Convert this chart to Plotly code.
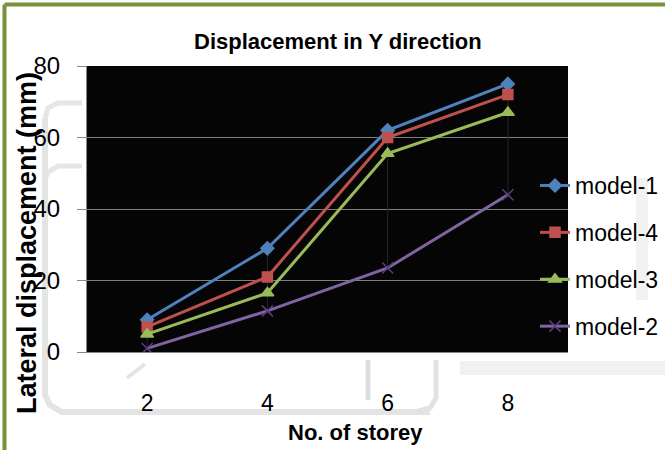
import plotly.graph_objects as go

# Storey numbers and lateral displacement (mm) in the Y direction
storeys = [2, 4, 6, 8]
model_1 = [9, 29, 62, 75]
model_4 = [7, 21, 60, 72]
model_3 = [5, 16.5, 55.5, 67]
model_2 = [1, 11.5, 23.5, 44]

series = [
    ("model-1", model_1, "#4F81BD", "diamond", 10),
    ("model-4", model_4, "#C0504D", "square", 10),
    ("model-3", model_3, "#9BBB59", "triangle-up", 11),
    ("model-2", model_2, "#8064A2", "x-thin", 11),
]

FONT = "Liberation Sans, Arial, sans-serif"

# Plot-area geometry in pixels (used to place decorations in paper units)
L, R, T, B = 87, 568, 66, 352


def px(x, y):
    return (x - L) / (R - L), (B - y) / (B - T)


fig = go.Figure()

# High-low lines between the largest and smallest value at each storey
hl_x, hl_y = [], []
all_vals = [model_1, model_4, model_3, model_2]
for i, s in enumerate(storeys):
    col = [v[i] for v in all_vals]
    hl_x += [s, s, None]
    hl_y += [max(col), min(col), None]
fig.add_trace(go.Scatter(x=hl_x, y=hl_y, mode="lines",
                         line=dict(color="#262626", width=1),
                         showlegend=False, hoverinfo="skip"))

for name, vals, color, sym, size in series:
    fig.add_trace(go.Scatter(
        x=storeys, y=vals, name=name, mode="lines+markers",
        legendgroup=name,
        line=dict(color=color, width=3),
        marker=dict(symbol=sym, size=size, color=color,
                    line=dict(color="#5a3f80" if sym == "x-thin" else color,
                              width=1.5)),
    ))

shapes = []


def path_shape(points, color="#e3e3e3", width=6):
    d = ""
    for k, (x, y) in enumerate(points):
        xp, yp = px(x, y)
        d += ("M" if k == 0 else "L") + f" {xp:.4f},{yp:.4f} "
    shapes.append(dict(type="path", path=d, xref="paper", yref="paper",
                       line=dict(color=color, width=width), layer="below"))


# Soft grey frame behind the chart
path_shape([(45, 118), (48, 108), (58, 103), (82, 103)], "#e6e6e6", 5)
path_shape([(45, 180), (48, 172), (58, 166), (82, 166)], "#e6e6e6", 5)
path_shape([(45, 118), (45, 395), (50, 405), (62, 412), (430, 412)], "#e4e4e4", 6)
path_shape([(368, 360), (368, 400)], "#dedede", 5)
path_shape([(436, 360), (436, 398), (430, 408), (415, 412)], "#e2e2e2", 5)
path_shape([(460, 368), (665, 368)], "#f1f1f1", 14)
path_shape([(127, 378), (145, 364)], "#e4e4e4", 4)
path_shape([(642, 178), (642, 300)], "#f2f2f2", 12)

# Green outer border
gx0, gy0 = px(4.5, 4.5)
gx1, gy1 = px(665, 455)
shapes.append(dict(type="line", xref="paper", yref="paper",
                   x0=gx0, y0=gy1, x1=gx0, y1=gy0,
                   line=dict(color="#77933C", width=4)))
shapes.append(dict(type="line", xref="paper", yref="paper",
                   x0=gx0, y0=gy0, x1=gx1, y1=gy0,
                   line=dict(color="#77933C", width=4)))

annotations = []
tx, ty = px(338, 42)
annotations.append(dict(text="<b>Displacement in Y direction</b>", x=tx, y=ty,
                        xref="paper", yref="paper", showarrow=False,
                        xanchor="center", yanchor="middle",
                        font=dict(family=FONT, size=22, color="#000000")))
yx, yy = px(27, 243)
annotations.append(dict(text="<b>Lateral displacement (mm)</b>", x=yx, y=yy,
                        xref="paper", yref="paper", showarrow=False,
                        textangle=-90, xanchor="center", yanchor="middle",
                        font=dict(family=FONT, size=27, color="#000000")))
xx, xy = px(355, 432)
annotations.append(dict(text="<b>No. of storey</b>", x=xx, y=xy,
                        xref="paper", yref="paper", showarrow=False,
                        xanchor="center", yanchor="middle",
                        font=dict(family=FONT, size=22, color="#000000")))

lx, ly = px(535, 164)

fig.update_layout(
    width=665, height=450,
    margin=dict(l=L, r=665 - R, t=T, b=450 - B, pad=0, autoexpand=False),
    paper_bgcolor="#ffffff",
    plot_bgcolor="#050505",
    font=dict(family=FONT, size=23, color="#000000"),
    shapes=shapes,
    annotations=annotations,
    showlegend=True,
    legend=dict(x=lx, y=ly, xanchor="left", yanchor="top",
                bgcolor="rgba(0,0,0,0)", borderwidth=0,
                traceorder="grouped", tracegroupgap=14,
                itemwidth=30,
                font=dict(family=FONT, size=23, color="#000000")),
    xaxis=dict(range=[1, 9], tickvals=storeys, ticktext=[str(s) for s in storeys],
               showgrid=False, zeroline=False, showline=True,
               linecolor="#868686", linewidth=1, ticks="",
               ticklabelstandoff=30,
               tickfont=dict(family=FONT, size=23, color="#000000")),
    yaxis=dict(range=[0, 80], tickvals=[0, 20, 40, 60, 80],
               showgrid=True, gridcolor="#7f7f7f", gridwidth=1,
               zeroline=False, showline=True, linecolor="#868686", linewidth=1,
               ticks="outside", ticklen=9, tickcolor="#868686",
               ticklabelstandoff=12,
               tickfont=dict(family=FONT, size=24, color="#000000")),
)

fig.write_html("out.html")
